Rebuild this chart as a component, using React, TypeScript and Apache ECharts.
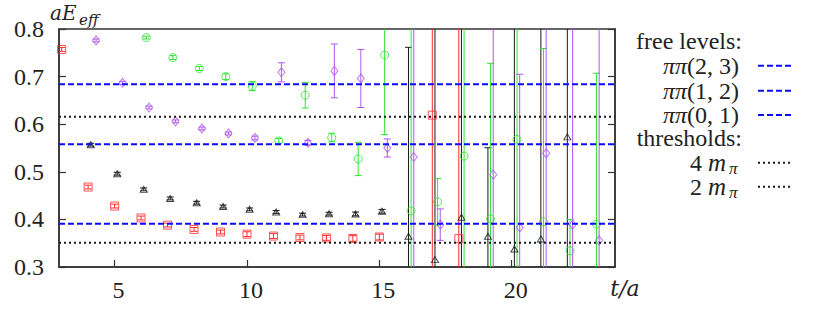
import React, { useEffect, useRef } from "react";
import * as echarts from "echarts";

// ---------- data ----------
const X_MIN = 2.9;
const X_MAX = 23.9;
const X_TICKS = [5, 10, 15, 20];
const Y_MIN = 0.3;
const Y_MAX = 0.8;

// red squares (x = t)
const T_RED = [3, 4, 5, 6, 7, 8, 9, 10, 11, 12, 13, 14, 15, 17, 18];
const V_RED = [0.757, 0.468, 0.428, 0.403, 0.388, 0.379, 0.3735, 0.369, 0.365, 0.362, 0.361, 0.36, 0.363, 0.619, 0.3596];
const E_RED = [0.004, 0.004, 0.004, 0.004, 0.004, 0.004, 0.004, 0.005, 0.005, 0.005, 0.005, 0.006, 0.006, 1.0, 1.0];

// black triangles (x = t + 0.1)
const T_BLACK = [4, 5, 6, 7, 8, 9, 10, 11, 12, 13, 14, 15, 16, 17, 18, 19, 20, 21, 22];
const V_BLACK = [0.557, 0.496, 0.463, 0.444, 0.435, 0.427, 0.421, 0.4156, 0.41, 0.412, 0.4115, 0.417, 0.3645, 0.3155, 0.4045, 0.3645, 0.3378, 0.359, 0.5734];
const E_BLACK = [0.003, 0.003, 0.003, 0.003, 0.003, 0.003, 0.003, 0.003, 0.003, 0.003, 0.004, 0.004, 0.397, 1.0, 1.0, 0.186, 1.0, 1.0, 1.0];

// green circles (x = t + 0.2)
const T_GREEN = [6, 7, 8, 9, 10, 11, 12, 13, 14, 15, 16, 17, 18, 19, 20, 21, 22, 23];
const V_GREEN = [0.782, 0.74, 0.717, 0.7, 0.68, 0.565, 0.661, 0.572, 0.527, 0.745, 0.418, 0.437, 0.533, 0.401, 0.568, 0.395, 0.334, 0.39];
const E_GREEN = [0.003, 0.004, 0.004, 0.006, 0.0095, 0.005, 0.027, 0.009, 0.035, 0.167, 1.0, 0.049, 1.0, 0.327, 1.0, 0.364, 0.066, 0.317];

// purple diamonds (x = t + 0.3)
const T_PURPLE = [4, 5, 6, 7, 8, 9, 10, 11, 12, 13, 14, 15, 16, 17, 19, 20, 21, 22, 23];
const V_PURPLE = [0.776, 0.687, 0.635, 0.606, 0.591, 0.5805, 0.571, 0.709, 0.561, 0.712, 0.696, 0.55, 0.531, 0.389, 0.494, 0.383, 0.539, 0.389, 0.356];
const E_PURPLE = [0.003, 0.003, 0.003, 0.003, 0.003, 0.003, 0.004, 0.02, 0.005, 0.0565, 0.061, 0.019, 1.0, 0.033, 1.0, 0.322, 1.0, 1.0, 1.0];

const SERIES_OFFSETS = [0, 0.1, 0.2, 0.3];

// horizontal reference lines
const LEVEL_LABELS = ["(2, 3)", "(1, 2)", "(0, 1)"];
const LEVEL_VALUES = [0.684, 0.558, 0.391];
const THRESHOLD_LABELS = ["4", "2"];
const THRESHOLD_VALUES = [0.6155, 0.351];

// ---------- styles ----------
const ROMAN = "Liberation Serif";
const MATH = "DejaVu Serif";
const INK = "#222";
const RED = "#ff2a2a";
const BLACK = "#1a1a1a";
const GREEN = "#2ee62e";
const PURPLE = "#b055f0";
const BLUE = "#0a0aff";

function errSeries(color: string, t: number[], v: number[], e: number[], off: number) {
  return {
    type: "custom",
    clip: true,
    z: 2,
    silent: true,
    encode: { x: 0, y: 1 },
    data: t.map((ti, i) => [ti + off, v[i], e[i]]),
    renderItem: (params: any, api: any) => {
      const x = api.value(0);
      const y = api.value(1);
      const e2 = api.value(2);
      const p1 = api.coord([x, y + e2]);
      const p2 = api.coord([x, y - e2]);
      const hw = 3.5;
      const st = { stroke: color, lineWidth: 1 };
      return {
        type: "group",
        children: [
          { type: "line", shape: { x1: p1[0], y1: p1[1], x2: p2[0], y2: p2[1] }, style: st },
          { type: "line", shape: { x1: p1[0] - hw, y1: p1[1], x2: p1[0] + hw, y2: p1[1] }, style: st },
          { type: "line", shape: { x1: p2[0] - hw, y1: p2[1], x2: p2[0] + hw, y2: p2[1] }, style: st },
        ],
      };
    },
  };
}

function pointSeries(color: string, t: number[], v: number[], off: number, symbol: string, size: any) {
  return {
    type: "scatter",
    clip: true,
    z: 3,
    silent: true,
    symbol,
    symbolSize: size,
    itemStyle: { color: "rgba(0,0,0,0)", borderColor: color, borderWidth: 1 },
    data: t.map((ti, i) => [ti + off, v[i]]),
  };
}

function hLine(value: number, color: string, dash: number[]) {
  return {
    type: "line",
    z: 4,
    silent: true,
    showSymbol: false,
    symbol: "none",
    lineStyle: { color, width: 2, type: dash },
    data: [
      [X_MIN, value],
      [X_MAX, value],
    ],
  };
}

function txt(x: number, y: number, text: string, family: string, size: number, italic: boolean, align: string, extra: any = {}) {
  const style: any = {
    text,
    fontFamily: family,
    fontSize: size,
    lineHeight: Math.round(size * 0.9),
    fill: INK,
    align,
    verticalAlign: "middle",
    ...extra,
  };
  if (italic) style.fontStyle = "italic";
  return { type: "text", x, y, style };
}

export default function App() {
  const ref = useRef<HTMLDivElement>(null);

  useEffect(() => {
    document.body.style.margin = "0";
    if (!ref.current) return;
    const chart = echarts.init(ref.current, undefined, { renderer: "svg" });

    const legendX = 742;
    const sampleX1 = 758;
    const sampleX2 = 791;
    const levelYs = [65.7, 90.7, 115];
    const thrYs = [162.7, 186.7];

    const graphics: any[] = [
      txt(50, 13, "aE", MATH, 20, true, "left"),
      txt(79, 20, "eff", MATH, 15, true, "left", { letterSpacing: 2 }),
      txt(625, 288, "t/a", MATH, 22, true, "center"),
      txt(legendX, 40.7, "free levels:", ROMAN, 24, false, "right"),
      txt(legendX, 138.3, "thresholds:", ROMAN, 24, false, "right"),
    ];

    LEVEL_LABELS.forEach((lab, i) => {
      graphics.push(
        txt(legendX - 3, levelYs[i], `{p|ππ}${lab}`, ROMAN, 24, false, "right", {
          rich: { p: { fontFamily: ROMAN, fontStyle: "italic", fontSize: 24, lineHeight: 21, fill: INK } },
        })
      );
      graphics.push({
        type: "line",
        shape: { x1: sampleX1, y1: levelYs[i], x2: sampleX2, y2: levelYs[i] },
        style: { stroke: BLUE, lineWidth: 2, lineDash: [6, 3] },
      });
    });

    THRESHOLD_LABELS.forEach((lab, i) => {
      graphics.push(
        txt(726, thrYs[i], `${lab} {m|m}`, ROMAN, 24, false, "right", {
          rich: { m: { fontFamily: ROMAN, fontStyle: "italic", fontSize: 25, lineHeight: 21, fill: INK } },
        })
      );
      graphics.push(txt(729, thrYs[i] + 6, "π", ROMAN, 17, true, "left", { lineHeight: 12 }));
      graphics.push({
        type: "line",
        shape: { x1: sampleX1, y1: thrYs[i], x2: sampleX2, y2: thrYs[i] },
        style: { stroke: BLACK, lineWidth: 2, lineDash: [2, 3] },
      });
    });

    const axisLineStyle = { color: "#333", width: 1.5 };

    chart.setOption({
      animation: false,
      textStyle: { fontFamily: ROMAN },
      grid: {
        left: 59,
        top: 29,
        width: 556,
        height: 238,
        show: true,
        borderColor: "#333",
        borderWidth: 1.5,
        containLabel: false,
      },
      xAxis: {
        type: "value",
        min: X_MIN,
        max: X_MAX,
        axisLine: { show: true, onZero: false, lineStyle: axisLineStyle },
        axisTick: { show: true, inside: true, length: 7, customValues: X_TICKS, lineStyle: { color: "#333", width: 1.2 } },
        axisLabel: {
          show: true,
          customValues: X_TICKS,
          margin: 11,
          padding: [0, 0, 0, 8],
          color: INK,
          fontFamily: ROMAN,
          fontSize: 24,
        },
        splitLine: { show: false },
      },
      yAxis: [
        {
          type: "value",
          min: Y_MIN,
          max: Y_MAX,
          interval: 0.1,
          axisLine: { show: true, onZero: false, lineStyle: axisLineStyle },
          axisTick: { show: true, inside: true, length: 7, lineStyle: { color: "#333", width: 1.2 } },
          axisLabel: {
            margin: 15,
            color: INK,
            fontFamily: ROMAN,
            fontSize: 24,
            formatter: (v: number) => v.toFixed(1),
          },
          splitLine: { show: false },
        },
        {
          type: "value",
          position: "right",
          min: Y_MIN,
          max: Y_MAX,
          interval: 0.1,
          axisLine: { show: true, onZero: false, lineStyle: axisLineStyle },
          axisTick: { show: true, inside: true, length: 7, lineStyle: { color: "#333", width: 1.2 } },
          axisLabel: { show: false },
          splitLine: { show: false },
        },
      ],
      graphic: graphics,
      series: [
        errSeries(RED, T_RED, V_RED, E_RED, SERIES_OFFSETS[0]),
        errSeries(BLACK, T_BLACK, V_BLACK, E_BLACK, SERIES_OFFSETS[1]),
        errSeries(GREEN, T_GREEN, V_GREEN, E_GREEN, SERIES_OFFSETS[2]),
        errSeries(PURPLE, T_PURPLE, V_PURPLE, E_PURPLE, SERIES_OFFSETS[3]),
        pointSeries(RED, T_RED, V_RED, SERIES_OFFSETS[0], "rect", 8),
        pointSeries(BLACK, T_BLACK, V_BLACK, SERIES_OFFSETS[1], "triangle", [7, 6]),
        pointSeries(GREEN, T_GREEN, V_GREEN, SERIES_OFFSETS[2], "circle", 8),
        pointSeries(PURPLE, T_PURPLE, V_PURPLE, SERIES_OFFSETS[3], "diamond", [7, 9]),
        ...LEVEL_VALUES.map((v) => hLine(v, BLUE, [6, 3])),
        ...THRESHOLD_VALUES.map((v) => hLine(v, BLACK, [2, 3])),
      ],
    });

    return () => chart.dispose();
  }, []);

  return <div ref={ref} style={{ width: 821, height: 316 }} />;
}
